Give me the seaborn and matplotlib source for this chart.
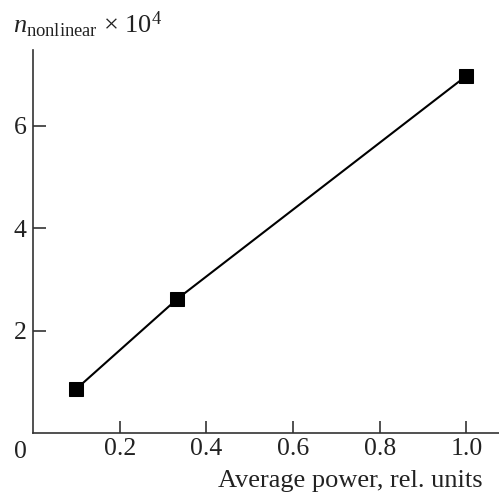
import matplotlib
matplotlib.use("Agg")
import matplotlib.pyplot as plt
import seaborn as sns
import pandas as pd

power = [0.1, 0.333, 1.0]
n_nonlinear = [0.86, 2.62, 6.98]
xticks = [0.2, 0.4, 0.6, 0.8, 1.0]
xticklabels = ["0.2", "0.4", "0.6", "0.8", "1.0"]
yticks = [2, 4, 6]

sns.set_style("white")
plt.rcParams['font.family'] = ['Liberation Serif', 'DejaVu Serif']
plt.rcParams['mathtext.fontset'] = 'custom'
plt.rcParams['mathtext.rm'] = 'Liberation Serif'
plt.rcParams['mathtext.it'] = 'Liberation Serif:italic'

df = pd.DataFrame({"power": power, "n": n_nonlinear})

fig = plt.figure(figsize=(4.99, 4.92), dpi=100)
ax = fig.add_axes([0.066, 0.12, 0.934, 0.778])
sns.lineplot(data=df, x="power", y="n", ax=ax, color="black", linewidth=1.5,
             marker="s", markersize=9.5, markeredgecolor="black", markerfacecolor="black")

ax.set_xlim(0, 1.075)
ax.set_ylim(0, 7.48)
ax.set_xticks(xticks)
ax.set_xticklabels(xticklabels)
ax.set_yticks(yticks)
for s in ["top", "right"]:
    ax.spines[s].set_visible(False)
for s in ["left", "bottom"]:
    ax.spines[s].set_color("#333333")
    ax.spines[s].set_linewidth(1.2)
ax.tick_params(direction="in", length=9, width=1.2, color="#333333",
               labelsize=18.5, labelcolor="#222222", bottom=True, left=True)
ax.tick_params(axis="x", pad=3.5)
ax.tick_params(axis="y", pad=4.5)
ax.set_xlabel("")
ax.set_ylabel("")

fig.text(20 / 499, 1 - 451.5 / 492, "0", fontsize=18.5, color="#222222", ha="center", va="center")
fig.text(483 / 499, 1 - 487 / 492, "Average power, rel. units", fontsize=19, color="#222222",
         ha="right", va="baseline")
fig.text(13 / 499, 1 - 33 / 492, r"$n_{\rm nonlinear}$ × 10$^4$", fontsize=19, color="#222222",
         ha="left", va="baseline")

fig.savefig("out.png", dpi=100)
